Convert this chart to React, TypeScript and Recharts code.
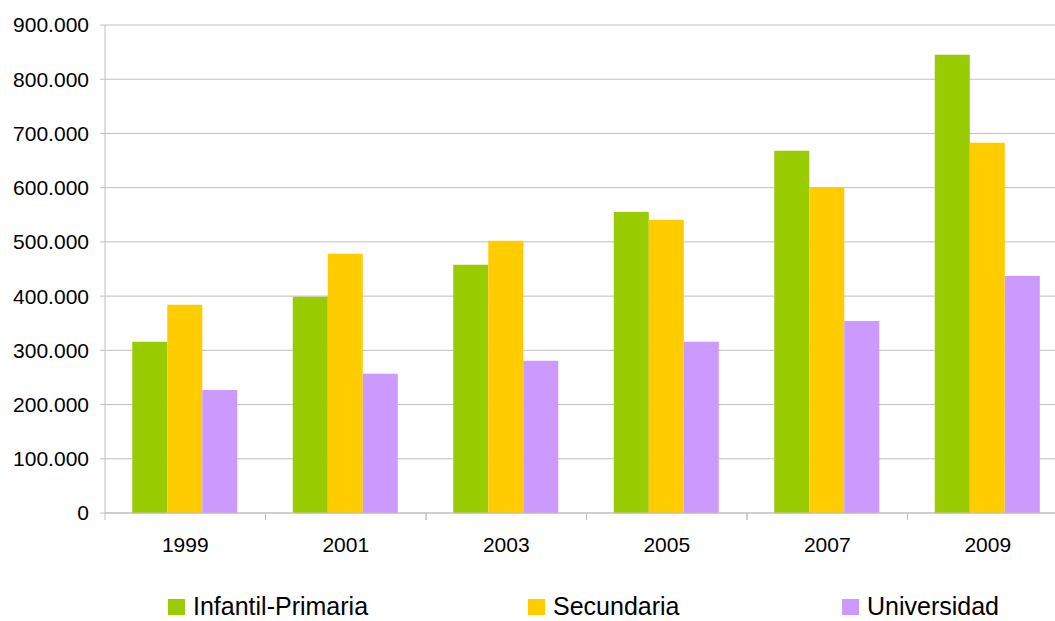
import React from 'react';
import { BarChart, Bar, XAxis, YAxis, CartesianGrid, Legend } from 'recharts';

const categories = ['1999', '2001', '2003', '2005', '2007', '2009'];
const infantilPrimaria = [316000, 399000, 458000, 555000, 668000, 845000];
const secundaria = [384000, 478000, 502000, 541000, 601000, 683000];
const universidad = [227000, 257000, 281000, 316000, 354000, 437000];
const yTicks = [0, 100000, 200000, 300000, 400000, 500000, 600000, 700000, 800000, 900000];

const seriesNames = ['Infantil-Primaria', 'Secundaria', 'Universidad'];
const seriesColors = ['#99CC00', '#FFCC00', '#CC99FF'];

const data = categories.map((c, i) => ({
  year: c,
  a: infantilPrimaria[i],
  b: secundaria[i],
  c: universidad[i],
}));

const FONT = '"Liberation Sans", Arial, sans-serif';

const fmt = (v: number) => (v === 0 ? '0' : v.toLocaleString('de-DE'));

const XTick = (props: any) => {
  const { x, y, payload } = props;
  const off = payload.offset || 0;
  return (
    <g>
      <line x1={x - off} x2={x - off} y1={y - 24} y2={y - 17} stroke="#bfbfbf" />
      <line x1={x + off} x2={x + off} y1={y - 24} y2={y - 17} stroke="#bfbfbf" />
      <text x={x} y={y} dy="0.71em" textAnchor="middle" fontSize={21} fontFamily={FONT} fill="#000">
        {payload.value}
      </text>
    </g>
  );
};

const LegendContent = () => (
  <div style={{ display: 'flex', fontFamily: FONT, fontSize: 25, lineHeight: '19px', color: '#000' }}>
    {seriesNames.map((n, i) => (
      <div key={n} style={{ width: i === 0 ? 360 : i === 1 ? 314 : 200, whiteSpace: 'nowrap' }}>
        <span
          style={{
            display: 'inline-block',
            width: 17,
            height: 16,
            background: seriesColors[i],
            marginRight: 8,
            verticalAlign: 'baseline',
          }}
        />
        {n}
      </div>
    ))}
  </div>
);

export default function App() {
  return (
    <div style={{ position: 'fixed', left: 0, top: 0, width: 1055, height: 621, overflow: 'hidden', background: '#fff' }}>
      <BarChart
        width={1090}
        height={621}
        data={data}
        margin={{ top: 25, right: 22, left: 0, bottom: 0 }}
        barCategoryGap="17%"
        barGap={0}
      >
        <CartesianGrid vertical={false} stroke="#bfbfbf" />
        <XAxis
          dataKey="year"
          height={108}
          axisLine={{ stroke: '#bfbfbf' }}
          tickLine={false}
          tickSize={0}
          tickMargin={24}
          tick={<XTick />}
          interval={0}
        />
        <YAxis
          width={105}
          domain={[0, 900000]}
          ticks={yTicks}
          interval={0}
          tickFormatter={fmt}
          axisLine={{ stroke: '#bfbfbf' }}
          tickLine={{ stroke: '#bfbfbf' }}
          tickSize={5}
          tickMargin={11}
          tick={{ fontSize: 21, fontFamily: FONT, fill: '#000' }}
        />
        <Legend
          layout="horizontal"
          verticalAlign="middle"
          align="center"
          content={<LegendContent />}
          wrapperStyle={{ top: 597, left: 168, width: 900 }}
        />
        <Bar dataKey="a" name={seriesNames[0]} fill={seriesColors[0]} isAnimationActive={false} />
        <Bar dataKey="b" name={seriesNames[1]} fill={seriesColors[1]} isAnimationActive={false} />
        <Bar dataKey="c" name={seriesNames[2]} fill={seriesColors[2]} isAnimationActive={false} />
      </BarChart>
    </div>
  );
}
